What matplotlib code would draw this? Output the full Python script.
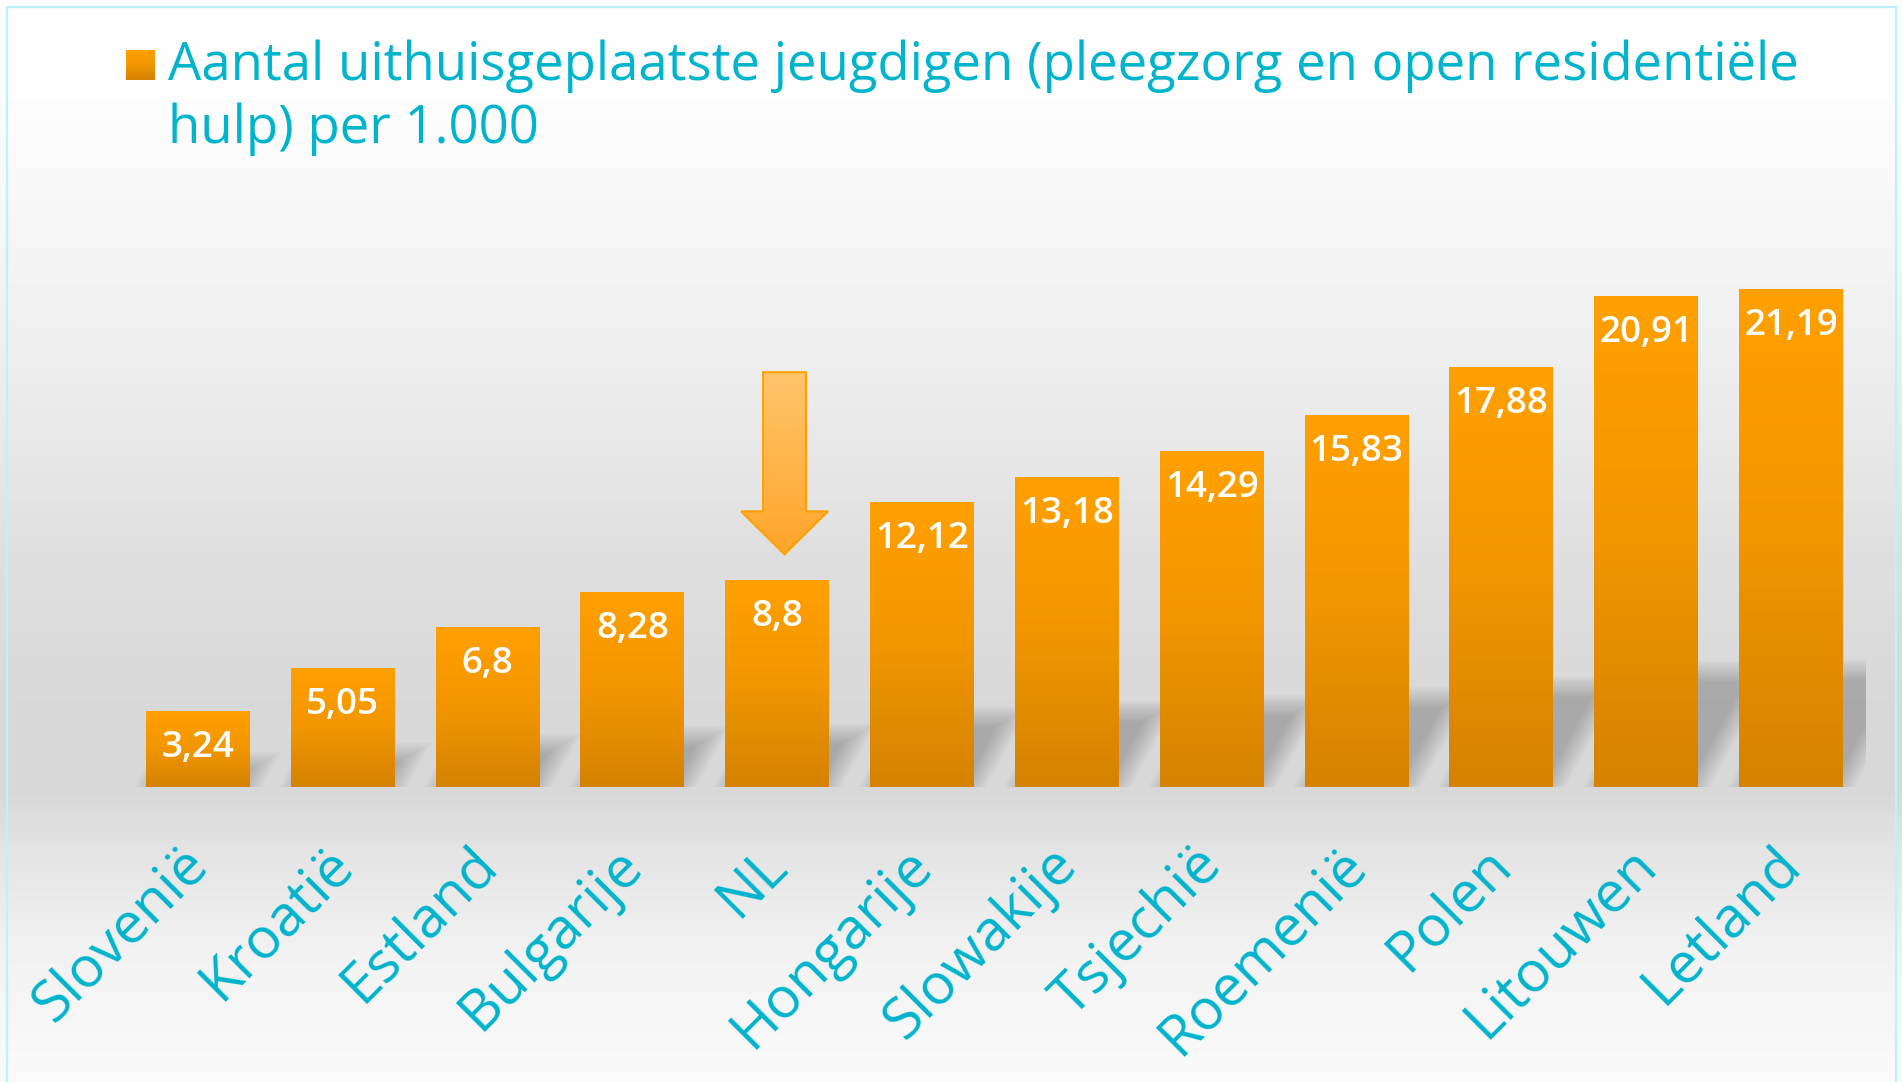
import numpy as np
import matplotlib
matplotlib.use("Agg")
import matplotlib.pyplot as plt
from matplotlib.colors import LinearSegmentedColormap
from matplotlib.patches import Polygon, Rectangle
from matplotlib.transforms import ScaledTranslation, IdentityTransform

plt.rcParams['font.family'] = ['Open Sans', 'DejaVu Sans']

# ---- data ----
countries = ["Slovenië", "Kroatië", "Estland", "Bulgarije", "NL", "Hongarije",
             "Slowakije", "Tsjechië", "Roemenië", "Polen", "Litouwen", "Letland"]
values = [3.24, 5.05, 6.8, 8.28, 8.8, 12.12, 13.18, 14.29, 15.83, 17.88, 20.91, 21.19]
highlight = "NL"
title_lines = ["Aantal uithuisgeplaatste jeugdigen (pleegzorg en open residentiële",
               "hulp) per 1.000"]

TEAL = "#00b4cc"
W, H = 1902, 1082
fig = plt.figure(figsize=(W / 100, H / 100), dpi=100)

# ---- background gradient ----
bg_ax = fig.add_axes([0, 0, 1, 1], zorder=-10)
stops_y = np.array([0, 100, 200, 400, 550, 700, 790, 850, 950, 1082]) / H
stops_g = np.array([255, 254, 248, 236, 224, 217, 216, 228, 242, 251]) / 255
yy = np.linspace(0, 1, 600)
g = np.interp(yy, stops_y, stops_g)
bg = np.repeat(g[:, None], 3, axis=1)[:, None, :]
bg_ax.imshow(bg, aspect='auto', extent=[0, 1, 1, 0])
bg_ax.set_xlim(0, 1); bg_ax.set_ylim(1, 0)
bg_ax.axis('off')

# frame
fig.patches.append(Rectangle((7 / W, -0.02), (1896 - 7) / W, (H - 7) / H + 0.02,
                             transform=fig.transFigure, fill=False,
                             edgecolor="#bdf2fa", linewidth=1.6, zorder=5))

# ---- main axes ----
px_per_unit_y = 23.5
ax = fig.add_axes([123 / W, (H - 787) / H, (1866 - 123) / W, 25 * px_per_unit_y / H])
ax.set_facecolor('none')
x = np.arange(len(countries))
XL = (-0.518, len(countries) - 1 + 0.518)
ax.set_xlim(*XL)
ax.set_ylim(0, 25)
for s in ax.spines.values():
    s.set_visible(False)
ax.set_yticks([])

bar_w = 0.718
bar_cmap = LinearSegmentedColormap.from_list("bar", ["#d48200", "#f29600", "#ffa000"])
grad = np.linspace(0, 1, 256).reshape(-1, 1)

# ---- shadows (blurred parallelograms, computed in display pixels) ----
fig.canvas.draw()
def offset_poly(P, d):
    n = len(P)
    lines = []
    for i in range(n):
        a, b = P[i], P[(i + 1) % n]
        e = b - a
        nrm = np.array([e[1], -e[0]]) / np.hypot(*e)
        lines.append((a + nrm * d, e))
    out = []
    for i in range(n):
        p1, e1 = lines[i - 1]
        p2, e2 = lines[i]
        A = np.array([e1, -e2]).T
        t = np.linalg.solve(A, p2 - p1)
        out.append(p1 + e1 * t[0])
    return np.array(out)

for xi, v in zip(x, values):
    h = 0.22 * v + 0.34
    dxp = 0.56 * h * px_per_unit_y
    base = ax.transData.transform([(xi - bar_w / 2, 0), (xi + bar_w / 2, 0)])
    hp = h * px_per_unit_y
    P = np.array([base[0], base[1],
                  base[1] + np.array([dxp, hp]),
                  base[0] + np.array([dxp, hp])])
    for d in np.arange(-10, 11, 2):
        poly = Polygon(offset_poly(P, d), closed=True, transform=IdentityTransform(),
                       facecolor=(0, 0, 0, 0.019), edgecolor='none', zorder=1)
        poly.set_clip_box(ax.bbox)
        ax.add_patch(poly)

# ---- bars with gradient ----
bars = ax.bar(x, values, width=bar_w, color='none', edgecolor='none', zorder=2)
for b in bars:
    x0, y0 = b.get_x(), b.get_y()
    im = ax.imshow(grad, cmap=bar_cmap, aspect='auto', origin='lower',
                   extent=[x0, x0 + b.get_width(), y0, y0 + b.get_height()], zorder=2)
    im.set_clip_path(b)
ax.set_xlim(*XL)
ax.set_ylim(0, 25)

# value labels
for xi, v in zip(x, values):
    ax.annotate(f"{v:g}".replace('.', ','), (xi, v), xytext=(0, -37 / 1.389),
                textcoords='offset points', ha='center', va='center',
                color='white', fontsize=26.5, fontweight='semibold', zorder=4)

# ---- arrow over highlighted bar ----
i_nl = countries.index(highlight)
v_nl = values[i_nl]
tip = v_nl + 1.1
top = tip + 7.75
arr = ax.arrow(i_nl + 0.05, top, 0, -(top - tip), width=0.296, head_width=0.6,
               head_length=1.83, length_includes_head=True,
               facecolor='none', edgecolor='#ffa000', linewidth=1.5, zorder=3)
arr_cmap = LinearSegmentedColormap.from_list("arr", ["#ffa52a", "#ffc56c"])
im = ax.imshow(grad, cmap=arr_cmap, aspect='auto', origin='lower',
               extent=[i_nl - 0.35, i_nl + 0.45, tip, top], zorder=2.9)
im.set_clip_path(arr)
ax.set_xlim(*XL)
ax.set_ylim(0, 25)

# ---- category labels ----
ax.set_xticks(x, countries)
ax.tick_params(axis='x', length=0, pad=80 / 1.389, labelsize=41, labelcolor=TEAL)
for lab in ax.get_xticklabels():
    lab.set_rotation(45)
    lab.set_rotation_mode('anchor')
    lab.set_ha('right')
    lab.set_va('baseline')
    lab.set_transform(lab.get_transform() + ScaledTranslation(12 / 100, 0, fig.dpi_scale_trans))

# ---- legend / title ----
sq = fig.add_axes([126 / W, (H - 80) / H, 29 / W, 30 / H])
sq.imshow(grad, cmap=bar_cmap, aspect='auto', origin='lower', extent=[0, 1, 0, 1])
sq.axis('off')
fig.text(168 / W, (H - 80) / H, title_lines[0], color=TEAL, fontsize=38, va='baseline', ha='left')
fig.text(168 / W, (H - 143) / H, title_lines[1], color=TEAL, fontsize=38, va='baseline', ha='left')

fig.savefig("out.png", dpi=100)
